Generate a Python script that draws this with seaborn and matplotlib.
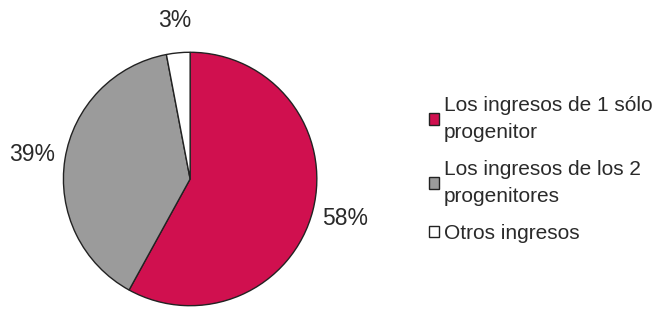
import matplotlib
matplotlib.use('Agg')
import matplotlib.pyplot as plt
from matplotlib.patches import Patch
import seaborn as sns

# Chart data
categories = ['Los ingresos de 1 sólo\nprogenitor',
              'Los ingresos de los 2\nprogenitores',
              'Otros ingresos']
shares = [58, 39, 3]
colors = ['#D0104F', '#9B9B9B', '#FFFFFF']

sns.set_theme(style='white')
plt.rcParams['font.family'] = ['Liberation Sans', 'DejaVu Sans']

fig = plt.figure(figsize=(6.62, 3.11), dpi=100)
ax = fig.add_axes([0.0937, 0.013, 0.387, 0.823])

wedges, texts = ax.pie(shares, colors=colors, startangle=90, counterclock=False,
                       labels=[f'{v}%' for v in shares], labeldistance=1.26,
                       wedgeprops=dict(edgecolor='#222222', linewidth=1.0),
                       textprops=dict(fontsize=16.5, color='#2a2a2a'))
for t in texts:
    t.set_ha('center')
    t.set_va('center')
ax.set_xlim(-1.01, 1.01)
ax.set_ylim(-1.01, 1.01)
ax.set_aspect('equal')
ax.axis('off')

handles = [Patch(facecolor=c, edgecolor='#222222', linewidth=1.0) for c in colors]
leg = fig.legend(handles, categories, loc='upper left', bbox_to_anchor=(0.633, 0.725),
                 frameon=False, fontsize=15, handlelength=0.48, handleheight=0.48,
                 handletextpad=0.2, labelspacing=0.85, borderpad=0, labelcolor='#2a2a2a')
for t in leg.get_texts():
    t.set_linespacing(1.55)

fig.savefig('out.png', dpi=100)
